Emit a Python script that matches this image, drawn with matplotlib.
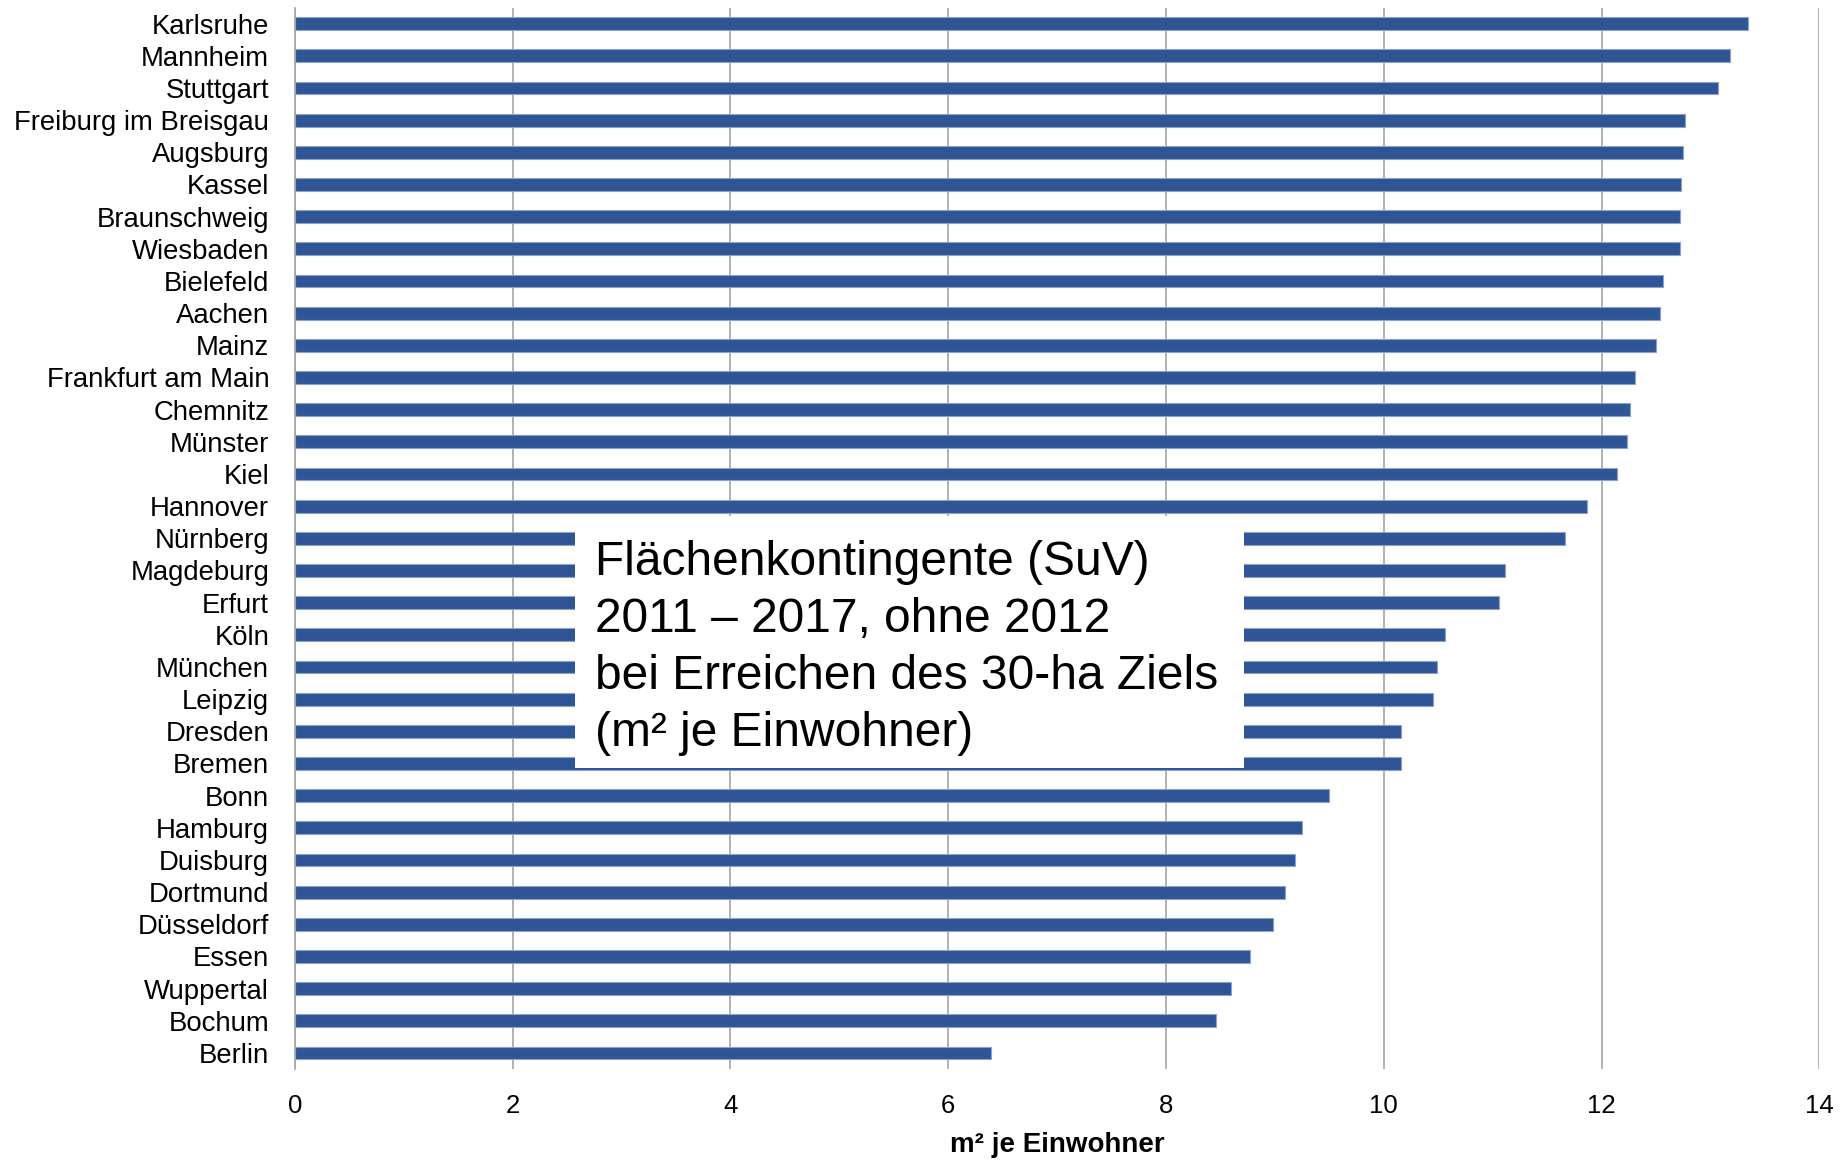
import matplotlib.pyplot as plt
from matplotlib.patches import Rectangle
import numpy as np

# city names, top to bottom
cities = ['Karlsruhe', 'Mannheim', 'Stuttgart', 'Freiburg im Breisgau', 'Augsburg',
          'Kassel', 'Braunschweig', 'Wiesbaden', 'Bielefeld', 'Aachen', 'Mainz',
          'Frankfurt am Main', 'Chemnitz', 'Münster', 'Kiel', 'Hannover', 'Nürnberg',
          'Magdeburg', 'Erfurt', 'Köln', 'München', 'Leipzig', 'Dresden', 'Bremen',
          'Bonn', 'Hamburg', 'Duisburg', 'Dortmund', 'Düsseldorf', 'Essen',
          'Wuppertal', 'Bochum', 'Berlin']

# m² je Einwohner
values = [13.34, 13.18, 13.07, 12.77, 12.75,
          12.73, 12.72, 12.72, 12.56, 12.54, 12.50,
          12.31, 12.26, 12.23, 12.14, 11.87, 11.66,
          11.11, 11.06, 10.56, 10.49, 10.45, 10.16, 10.16,
          9.50, 9.25, 9.18, 9.09, 8.98, 8.77,
          8.60, 8.46, 6.39]

xticks = [0, 2, 4, 6, 8, 10, 12, 14]
box_text = 'Flächenkontingente (SuV)\n2011 – 2017, ohne 2012\nbei Erreichen des 30-ha Ziels\n(m² je Einwohner)'

plt.rcParams['font.family'] = ['Liberation Sans', 'DejaVu Sans']

fig = plt.figure(figsize=(18.49, 11.61), dpi=100)
ax = fig.add_axes([0.1595, 0.0792, 0.8245, 0.9143])

y = np.arange(len(cities))
ax.barh(y, values, height=0.4, color='#2F5597', edgecolor='#8DA2C9', linewidth=0.8, zorder=2)

ax.set_xlim(0, 14)
ax.set_ylim(len(cities) - 0.5, -0.5)
ax.set_xticks(xticks)
ax.set_xticklabels([str(t) for t in xticks], fontsize=18.5)
ax.set_yticks(y)
ax.set_yticklabels(cities, fontsize=19.8)
ax.tick_params(axis='both', length=0)
ax.tick_params(axis='y', pad=18.5)
ax.tick_params(axis='x', pad=18)

ax.grid(axis='x', color='#A6A6A6', linewidth=1.2)
ax.grid(axis='y', visible=False)
ax.set_axisbelow(True)
for s in ['top', 'right', 'bottom']:
    ax.spines[s].set_visible(False)
ax.spines['left'].set_color('#A6A6A6')
ax.spines['left'].set_linewidth(1.2)

ax.set_xlabel('m² je Einwohner', fontsize=20, fontweight='bold', labelpad=10)

# white text box over the middle bars
ax.add_patch(Rectangle((2.57, 15.32), 6.15, 7.83, facecolor='white', edgecolor='none', zorder=3))
ax.text(2.755, 19.42, box_text, fontsize=34.5, ha='left', va='center',
        linespacing=1.34, zorder=4)

fig.savefig('out.png', dpi=100)
